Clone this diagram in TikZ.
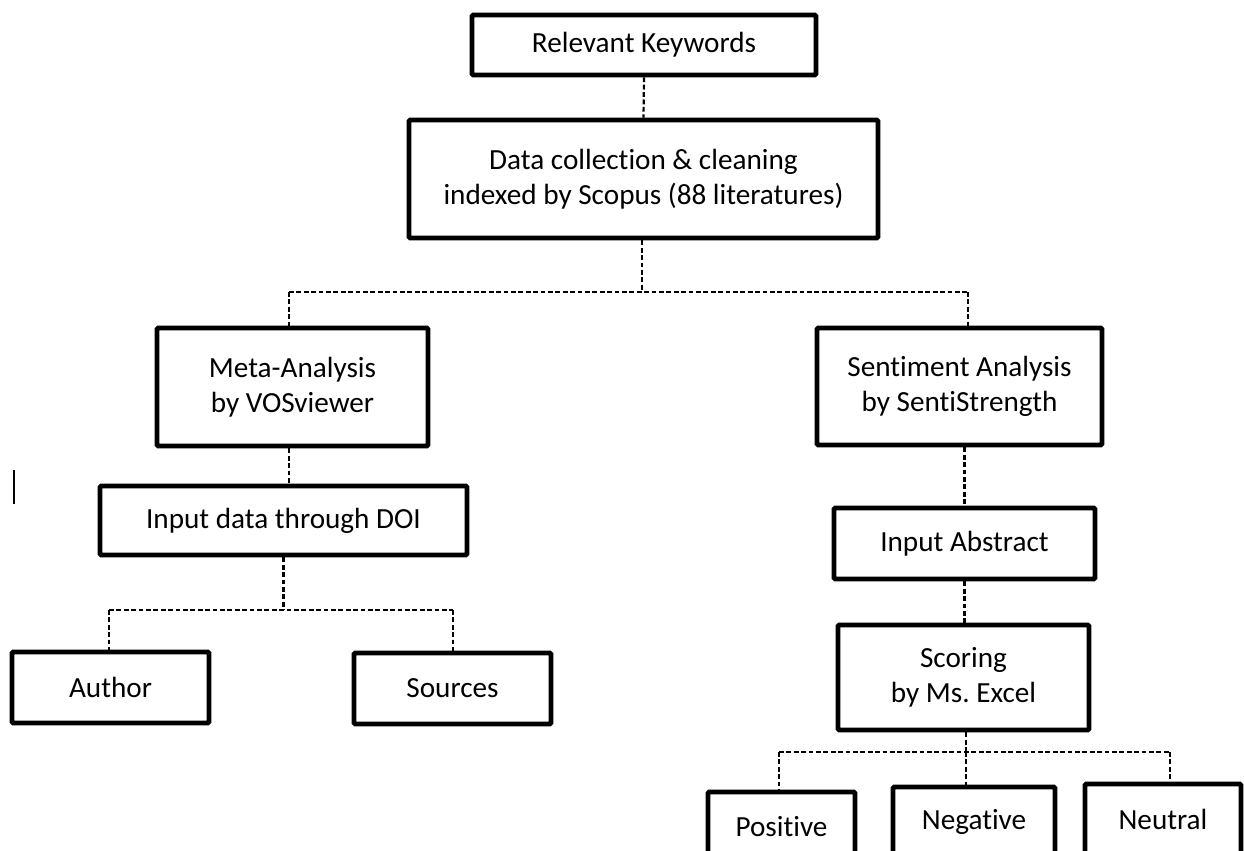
\documentclass[tikz,border=0pt]{standalone}
\usepackage{fontspec}
\setmainfont[Ligatures = NoCommon]{Carlito}
\frenchspacing

\begin{document}
\begin{tikzpicture}[x = 0.5pt, y = -0.5pt]
\tikzstyle{boxStyle} = [shape = rectangle, draw, line width = 2.3pt, rounded corners = 0.6pt, align = center, inner sep = 0pt, font = \fontsize{14.6pt}{17.6pt}\selectfont]
\tikzstyle{linkStyle} = [line width = 1.1pt, dash pattern = on 2.4pt off 1.3pt]
\useasboundingbox (0,0) rectangle (1244,851);
\clip (0,0) rectangle (1244,851);
\fill[white] (0,0) rectangle (1244,851);
% boxes
\node[boxStyle, minimum width = 172pt, minimum height = 30pt] (kw) at (644,45) {Relevant Keywords};
\node[boxStyle, minimum width = 234.5pt, minimum height = 59pt] (data) at (643.5,179) {Data collection \& cleaning\\indexed by Scopus (88 literatures)};
\node[boxStyle, minimum width = 135.5pt, minimum height = 59pt] (meta) at (292.5,387) {Meta-Analysis\\by VOSviewer};
\node[boxStyle, minimum width = 142.5pt, minimum height = 58.5pt] (senti) at (959.5,386.5) {Sentiment Analysis\\by SentiStrength};
\node[boxStyle, minimum width = 183.5pt, minimum height = 34.5pt] (doi) at (283.5,520.5) {Input data through DOI};
\node[boxStyle, minimum width = 98.5pt, minimum height = 35.5pt] (author) at (110.5,687.5) {Author};
\node[boxStyle, minimum width = 98.5pt, minimum height = 35.5pt] (sources) at (452.5,688.5) {Sources};
\node[boxStyle, minimum width = 130.5pt, minimum height = 35.5pt] (abstract) at (964.5,543.5) {Input Abstract};
\node[boxStyle, minimum width = 125.5pt, minimum height = 52.5pt] (scoring) at (963.5,677.5) {Scoring\\by Ms. Excel};
\node[boxStyle, minimum width = 73.5pt, minimum height = 35pt] (pos) at (781.5,827) {Positive};
\node[boxStyle, minimum width = 81pt, minimum height = 35pt] (neg) at (974,822) {Negative};
\node[boxStyle, minimum width = 78pt, minimum height = 35pt] (neu) at (1163,819) {Neutral};
% junctions
\coordinate (jTop) at (642,292);
\coordinate (jMeta) at (289,292);
\coordinate (jSenti) at (968,292);
\coordinate (jDoi) at (283.5,610);
\coordinate (jAuthor) at (109,610);
\coordinate (jSources) at (453,610);
\coordinate (jPos) at (779,752);
\coordinate (jNeg) at (966,752);
\coordinate (jNeu) at (1170,752);
% links
\draw[linkStyle] (kw.south) -- (data.north);
\draw[linkStyle] (data.south -| jTop) -- (jTop);
\draw[linkStyle] (jMeta) -- (jSenti);
\draw[linkStyle] (jMeta) -- (jMeta |- meta.north);
\draw[linkStyle] (jSenti) -- (jSenti |- senti.north);
\draw[linkStyle] (jMeta |- meta.south) -- (jMeta |- doi.north);
\draw[linkStyle] (doi.south) -- (jDoi);
\draw[linkStyle] (jAuthor) -- (jSources);
\draw[linkStyle] (jAuthor) -- (jAuthor |- author.north);
\draw[linkStyle] (jSources) -- (jSources |- sources.north);
\draw[linkStyle] (abstract.north |- senti.south) -- (abstract.north);
\draw[linkStyle] (abstract.south) -- (abstract.south |- scoring.north);
\draw[linkStyle] (scoring.south -| jNeg) -- (jNeg);
\draw[linkStyle] (jPos) -- (jNeu);
\draw[linkStyle] (jPos) -- (jPos |- pos.north);
\draw[linkStyle] (jNeg) -- (jNeg |- neg.north);
\draw[linkStyle] (jNeu) -- (jNeu |- neu.north);
% cursor mark
\draw[line width = 0.6pt] (14,470) -- (14,504);
\end{tikzpicture}
\end{document}
